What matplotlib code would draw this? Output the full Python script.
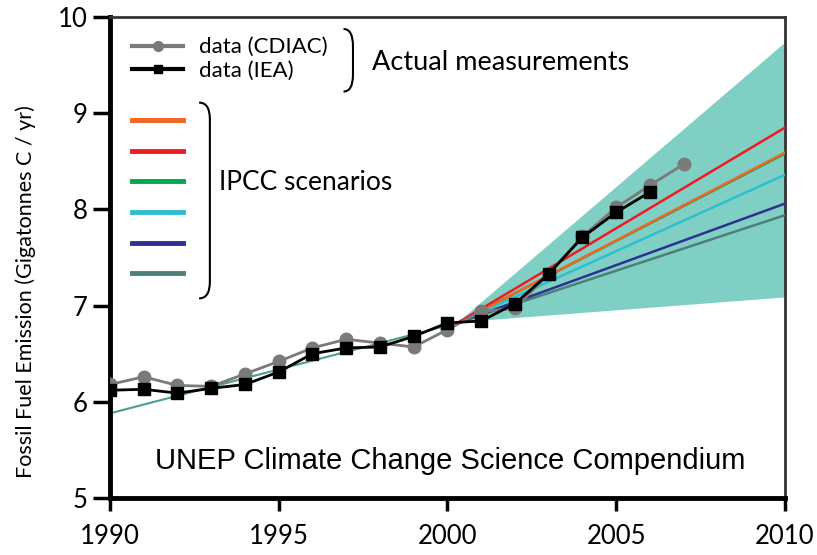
import matplotlib
matplotlib.use('Agg')
import matplotlib.pyplot as plt
from matplotlib.lines import Line2D
from matplotlib.path import Path
from matplotlib.patches import PathPatch

plt.rcParams['font.family'] = ['Lato', 'DejaVu Sans']

# measured emissions
years = list(range(1990, 2008))
cdiac = [6.18, 6.26, 6.17, 6.16, 6.29, 6.42, 6.56, 6.65, 6.61, 6.57,
         6.75, 6.94, 6.97, 7.33, 7.72, 8.02, 8.25, 8.47]
iea_years = list(range(1990, 2007))
iea = [6.12, 6.13, 6.09, 6.14, 6.18, 6.31, 6.50, 6.56, 6.57, 6.68,
       6.82, 6.84, 7.02, 7.33, 7.71, 7.97, 8.18]

# IPCC scenario lines (start 2000, end 2010)
scen_years = [2000.3, 2010]
scen_start = 6.82
scen_end = {'green': 8.58, 'orange': 8.59, 'red': 8.85, 'cyan': 8.36,
            'navy': 8.06, 'slate': 7.94}
scen_colors = {'orange': '#f26522', 'red': '#ed1c24', 'green': '#00a651',
               'cyan': '#2ebfcf', 'navy': '#2e3192', 'slate': '#4d7f78'}

# envelope of scenarios
env_years = [2000.3, 2010]
env_low = [6.83, 7.09]
env_high = [6.83, 9.74]

# back-cast trend line
trend_years = [1990, 2000.3]
trend_vals = [5.88, 6.82]

fig = plt.figure(figsize=(8.17, 5.55), dpi=100)
ax = fig.add_axes([0.1346, 0.1027, 0.8262, 0.8667])

ax.fill_between(env_years, env_low, env_high, color='#80cfc4', lw=0, zorder=1)
ax.plot(trend_years, trend_vals, color='#4f9d92', lw=1.5, zorder=2)
for k in ['green', 'slate', 'navy', 'cyan', 'orange', 'red']:
    ax.plot(scen_years, [scen_start, scen_end[k]], color=scen_colors[k], lw=1.8, zorder=3)

ax.plot(years, cdiac, color='#7a7a7a', lw=2, marker='o', ms=9, zorder=4)
ax.plot(iea_years, iea, color='black', lw=2, marker='s', ms=8, zorder=5)

ax.set_xlim(1990, 2010)
ax.set_ylim(5, 10)
ax.set_xticks([1990, 1995, 2000, 2005, 2010])
ax.set_yticks([5, 6, 7, 8, 9, 10])
ax.tick_params(axis='both', labelsize=18.5, width=2.5, direction='out', colors='black')
ax.tick_params(axis='x', length=9, pad=10)
ax.tick_params(axis='y', length=12, pad=4)
ax.set_ylabel('Fossil Fuel Emission (Gigatonnes C / yr)', fontsize=15.5)
ax.yaxis.set_label_coords(-0.11, 0.43)
for s in ['left', 'bottom']:
    ax.spines[s].set_linewidth(3.5)
for s in ['top', 'right']:
    ax.spines[s].set_linewidth(2)
    ax.spines[s].set_color('#333333')

# legends
h1 = [Line2D([], [], color='#7a7a7a', lw=3, marker='o', ms=7),
      Line2D([], [], color='black', lw=3, marker='s', ms=6)]
leg1 = ax.legend(h1, ['data (CDIAC)', 'data (IEA)'], loc='upper left',
                 bbox_to_anchor=(0.01, 0.99), frameon=False, fontsize=16,
                 handlelength=2.3, handletextpad=0.7, labelspacing=0.15,
                 borderpad=0.2)
ax.add_artist(leg1)
order = ['orange', 'red', 'green', 'cyan', 'navy', 'slate']
h2 = [Line2D([], [], color=scen_colors[k], lw=3.5) for k in order]
ax.legend(h2, [''] * 6, loc='upper left', bbox_to_anchor=(0.01, 0.835),
          frameon=False, fontsize=16, handlelength=2.3, labelspacing=0.48,
          borderpad=0.2)

def bracket(x0, x1, ytop, ybot):
    c = 0.035
    verts = [(x0, ytop), (x1, ytop), (x1, ytop - c), (x1, ybot + c),
             (x1, ybot), (x0, ybot)]
    codes = [Path.MOVETO, Path.CURVE3, Path.CURVE3, Path.LINETO,
             Path.CURVE3, Path.CURVE3]
    ax.add_patch(PathPatch(Path(verts, codes), transform=ax.transAxes,
                           fill=False, lw=1.5, color='black'))

bracket(0.346, 0.360, 0.975, 0.845)
bracket(0.132, 0.148, 0.822, 0.415)

ax.text(0.388, 0.906, 'Actual measurements', transform=ax.transAxes,
        fontsize=19.5, va='center')
ax.text(0.162, 0.655, 'IPCC scenarios', transform=ax.transAxes,
        fontsize=19, va='center')
ax.text(0.066, 0.077, 'UNEP Climate Change Science Compendium',
        transform=ax.transAxes, fontsize=21, va='center',
        family='Liberation Sans')

fig.savefig('out.png', dpi=100)
